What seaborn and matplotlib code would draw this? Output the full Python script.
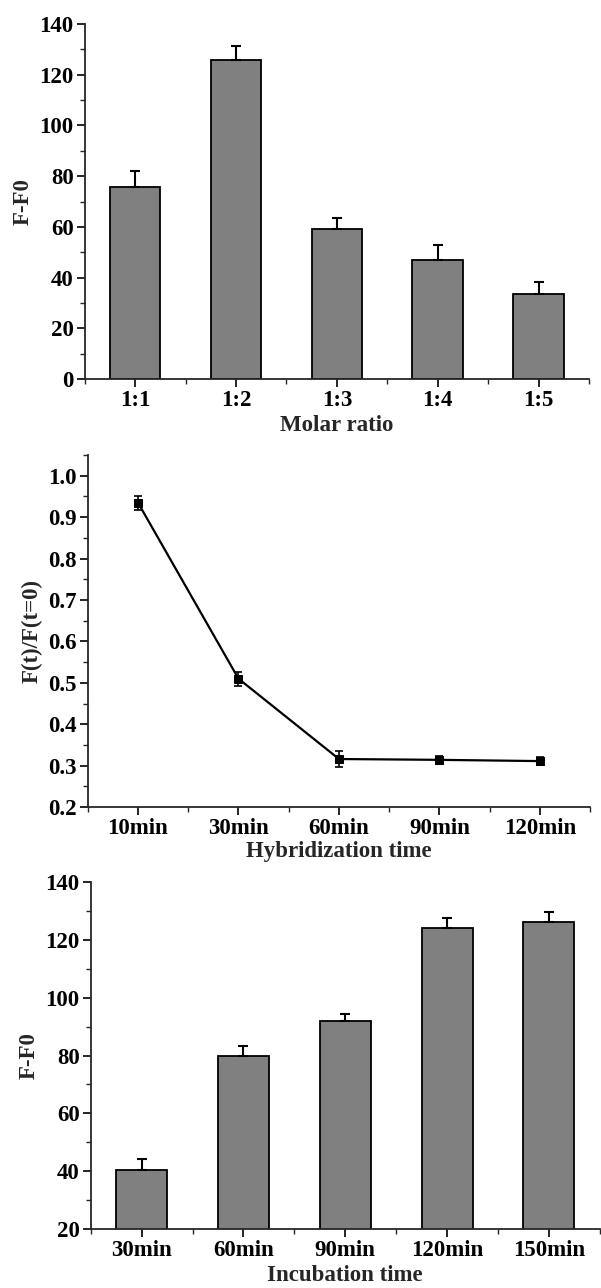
import numpy as np
import pandas as pd
import matplotlib
matplotlib.use("Agg")
import matplotlib.pyplot as plt
from matplotlib.ticker import MultipleLocator
import seaborn as sns

# data
ratio_labels = ["1:1", "1:2", "1:3", "1:4", "1:5"]
ratio_vals = [75.6, 125.6, 59.0, 46.8, 33.6]
ratio_err = [6.6, 5.6, 4.4, 6.0, 4.5]

hyb_labels = ["10min", "30min", "60min", "90min", "120min"]
hyb_vals = [0.935, 0.510, 0.316, 0.314, 0.311]
hyb_err = [0.017, 0.017, 0.019, 0.010, 0.010]

inc_labels = ["30min", "60min", "90min", "120min", "150min"]
inc_vals = [40.3, 79.8, 92.1, 124.1, 126.1]
inc_err = [3.9, 3.4, 2.1, 3.4, 3.7]

sns.set_style("ticks")
plt.rcParams['font.family'] = ['Liberation Serif', 'DejaVu Serif']
plt.rcParams['font.weight'] = 'bold'
plt.rcParams['axes.labelweight'] = 'bold'
plt.rcParams['axes.linewidth'] = 1.3

FS = 16.5

fig = plt.figure(figsize=(6.01, 12.88), dpi=100)
ax1 = fig.add_axes([0.141, 0.7057, 0.839, 0.2757])
ax2 = fig.add_axes([0.146, 0.3734, 0.836, 0.2733])
ax3 = fig.add_axes([0.151, 0.0458, 0.847, 0.2694])


def style_axis(ax, major, minor):
    sns.despine(ax=ax)
    ax.set_xlim(-0.5, 4.5)
    ax.set_xticks(np.arange(-0.5, 5, 1), minor=True)
    ax.yaxis.set_major_locator(MultipleLocator(major))
    ax.yaxis.set_minor_locator(MultipleLocator(minor))
    ax.tick_params(which='major', length=6, width=1.2, direction='out',
                   labelsize=FS, colors='black', pad=2)
    ax.tick_params(which='minor', length=3.5, width=1.0, direction='out')
    for lab in ax.get_xticklabels() + ax.get_yticklabels():
        lab.set_fontweight('bold')


def bar_panel(ax, labels, vals, err, ylo, yhi, xlabel):
    df = pd.DataFrame({"cat": labels, "val": vals})
    sns.barplot(data=df, x="cat", y="val", color="#808080", saturation=1,
                edgecolor="black", linewidth=1.3, width=0.5, ax=ax, zorder=2)
    xs = np.arange(len(labels))
    ax.errorbar(xs, vals, yerr=[np.zeros(len(err)), err], fmt='none',
                ecolor='black', elinewidth=1.5, capsize=3.5, capthick=1.5,
                zorder=3)
    ax.set_ylim(ylo, yhi)
    ax.set_xlabel(xlabel, fontsize=FS, fontweight='bold', labelpad=3)
    ax.set_ylabel("F-F0", fontsize=FS, fontweight='bold')


bar_panel(ax1, ratio_labels, ratio_vals, ratio_err, 0, 140, "Molar ratio")
style_axis(ax1, 20, 10)

# middle panel: line with square markers
df2 = pd.DataFrame({"t": hyb_labels, "v": hyb_vals})
sns.lineplot(data=df2, x="t", y="v", color="black", linewidth=1.6,
             marker="s", markersize=5.5, markeredgecolor="black", sort=False,
             ax=ax2, zorder=3)
ax2.errorbar(np.arange(len(hyb_labels)), hyb_vals, yerr=hyb_err, fmt='none',
             ecolor='black', elinewidth=1.2, capsize=3, capthick=1.2)
ax2.set_ylim(0.2, 1.05)
ax2.set_xlabel("Hybridization time", fontsize=FS, fontweight='bold', labelpad=1)
ax2.set_ylabel("F(t)/F(t=0)", fontsize=FS, fontweight='bold')
style_axis(ax2, 0.1, 0.05)

bar_panel(ax3, inc_labels, inc_vals, inc_err, 20, 140, "Incubation time")
style_axis(ax3, 20, 10)

fig.savefig("out.png", dpi=100)
